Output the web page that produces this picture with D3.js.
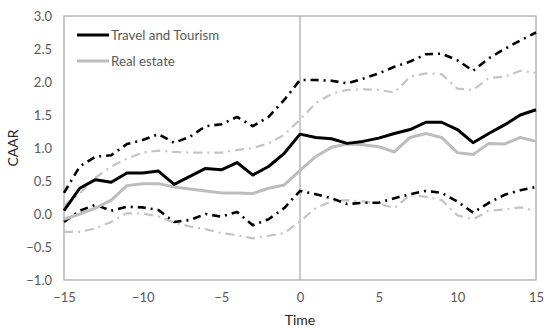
<!DOCTYPE html>
<html>
<head>
<meta charset="utf-8">
<script src="https://cdn.jsdelivr.net/npm/d3@7"></script>
<style>
  body { margin: 0; background: #fff; }
  text { font-family: Lato, "Open Sans", sans-serif; }
</style>
</head>
<body>
<svg id="chart"></svg>
<script>
const days = d3.range(-15, 16);

const travel = [0.05, 0.39, 0.52, 0.48, 0.62, 0.62, 0.65, 0.45, 0.57, 0.69, 0.67, 0.78, 0.59, 0.72, 0.92, 1.21,
  1.16, 1.14, 1.07, 1.10, 1.15, 1.22, 1.28, 1.39, 1.39, 1.28, 1.08, 1.22, 1.35, 1.50, 1.58];
const travelUpper = [0.32, 0.72, 0.87, 0.89, 1.06, 1.12, 1.21, 1.08, 1.17, 1.33, 1.36, 1.47, 1.33, 1.47, 1.73, 2.03,
  2.03, 2.02, 1.98, 2.05, 2.13, 2.23, 2.31, 2.42, 2.43, 2.33, 2.17, 2.36, 2.50, 2.63, 2.75];
const travelLower = [-0.12, 0.05, 0.14, 0.05, 0.11, 0.10, 0.06, -0.12, -0.09, 0.00, -0.04, 0.03, -0.17, -0.08, 0.09, 0.35,
  0.30, 0.24, 0.15, 0.17, 0.17, 0.24, 0.30, 0.35, 0.32, 0.19, 0.02, 0.17, 0.29, 0.36, 0.41];

const realEstate = [-0.08, 0.00, 0.09, 0.21, 0.43, 0.46, 0.46, 0.41, 0.38, 0.35, 0.32, 0.32, 0.31, 0.39, 0.44, 0.66,
  0.87, 1.01, 1.06, 1.05, 1.02, 0.94, 1.16, 1.22, 1.16, 0.93, 0.90, 1.07, 1.06, 1.16, 1.10];
const realUpper = [0.12, 0.31, 0.55, 0.72, 0.84, 0.93, 0.96, 0.94, 0.93, 0.93, 0.93, 0.97, 1.00, 1.07, 1.20, 1.43,
  1.68, 1.82, 1.88, 1.89, 1.88, 1.84, 2.08, 2.13, 2.12, 1.90, 1.88, 2.06, 2.08, 2.17, 2.14];
const realLower = [-0.27, -0.27, -0.22, -0.12, 0.01, 0.01, -0.04, -0.13, -0.19, -0.23, -0.29, -0.32, -0.37, -0.33, -0.29, -0.11,
  0.09, 0.19, 0.21, 0.19, 0.16, 0.09, 0.29, 0.26, 0.21, -0.02, -0.08, 0.05, 0.07, 0.10, 0.05];

const xTicks = [-15, -10, -5, 0, 5, 10, 15];
const yTicks = [-1.0, -0.5, 0.0, 0.5, 1.0, 1.5, 2.0, 2.5, 3.0];

const width = 550, height = 330;
const margin = {top: 16, right: 14, bottom: 50, left: 64};
const innerW = width - margin.left - margin.right;
const innerH = height - margin.top - margin.bottom;

const svg = d3.select('#chart').attr('width', width).attr('height', height);
const chart = svg.append('g').attr('transform', `translate(${margin.left}, ${margin.top})`);

const xscale = d3.scaleLinear().domain([-15, 15]).range([0, innerW]);
const yscale = d3.scaleLinear().domain([-1, 3]).range([innerH, 0]);

const textColor = '#595959';
const frameColor = '#a6a6a6';

// frame
chart.append('rect')
  .attr('x', 0).attr('y', 0)
  .attr('width', innerW).attr('height', innerH)
  .attr('fill', 'none')
  .attr('stroke', frameColor)
  .attr('stroke-width', 1.2);

// vertical line at event day
chart.append('line')
  .attr('x1', xscale(0)).attr('x2', xscale(0))
  .attr('y1', 0).attr('y2', innerH)
  .attr('stroke', frameColor)
  .attr('stroke-width', 1.2);

const xaxis = d3.axisBottom(xscale).tickValues(xTicks).tickSize(0).tickPadding(13).tickFormat(d3.format('d'));
const yaxis = d3.axisLeft(yscale).tickValues(yTicks).tickSize(0).tickPadding(12).tickFormat(d3.format('.1f'));

const xg = chart.append('g').attr('transform', `translate(0, ${innerH})`).call(xaxis);
const yg = chart.append('g').call(yaxis);
[xg, yg].forEach(g => {
  g.select('.domain').remove();
  g.selectAll('text').attr('fill', textColor).style('font-size', '13px').style('font-family', 'Lato, sans-serif');
});

const line = d3.line()
  .x((d, i) => xscale(days[i]))
  .y(d => yscale(d));

const series = [
  {data: realLower, color: '#c4c4c4', width: 2.2, dash: '9,5,2,5'},
  {data: realUpper, color: '#c4c4c4', width: 2.2, dash: '9,5,2,5'},
  {data: travelLower, color: '#000000', width: 2.6, dash: '8,5,2,5'},
  {data: travelUpper, color: '#000000', width: 2.6, dash: '8,5,2,5'},
  {data: realEstate, color: '#bdbdbd', width: 3, dash: null},
  {data: travel, color: '#000000', width: 3, dash: null}
];

chart.selectAll('path.series')
  .data(series)
  .join('path')
  .attr('class', 'series')
  .attr('d', d => line(d.data))
  .attr('fill', 'none')
  .attr('stroke', d => d.color)
  .attr('stroke-width', d => d.width)
  .attr('stroke-dasharray', d => d.dash)
  .attr('stroke-linejoin', 'round');

// legend
const legendItems = [
  {label: 'Travel and Tourism', color: '#000000'},
  {label: 'Real estate', color: '#bdbdbd'}
];
const legend = svg.append('g').attr('transform', 'translate(77, 35)');
legendItems.forEach((d, i) => {
  const g = legend.append('g').attr('transform', `translate(0, ${i * 26})`);
  g.append('line')
    .attr('x1', 0).attr('x2', 32)
    .attr('y1', 0).attr('y2', 0)
    .attr('stroke', d.color)
    .attr('stroke-width', 3);
  g.append('text')
    .attr('x', 34).attr('y', 0)
    .attr('dy', '0.35em')
    .attr('fill', textColor)
    .style('font-size', '13.3px')
    .text(d.label);
});

// axis titles
svg.append('text')
  .attr('x', margin.left + xscale(0))
  .attr('y', 325)
  .attr('text-anchor', 'middle')
  .attr('fill', '#262626')
  .style('font-size', '14px')
  .text('Time');

svg.append('text')
  .attr('transform', 'rotate(-90)')
  .attr('x', -(margin.top + innerH / 2))
  .attr('y', 18)
  .attr('text-anchor', 'middle')
  .attr('fill', '#262626')
  .style('font-size', '14px')
  .text('CAAR');
</script>
</body>
</html>
